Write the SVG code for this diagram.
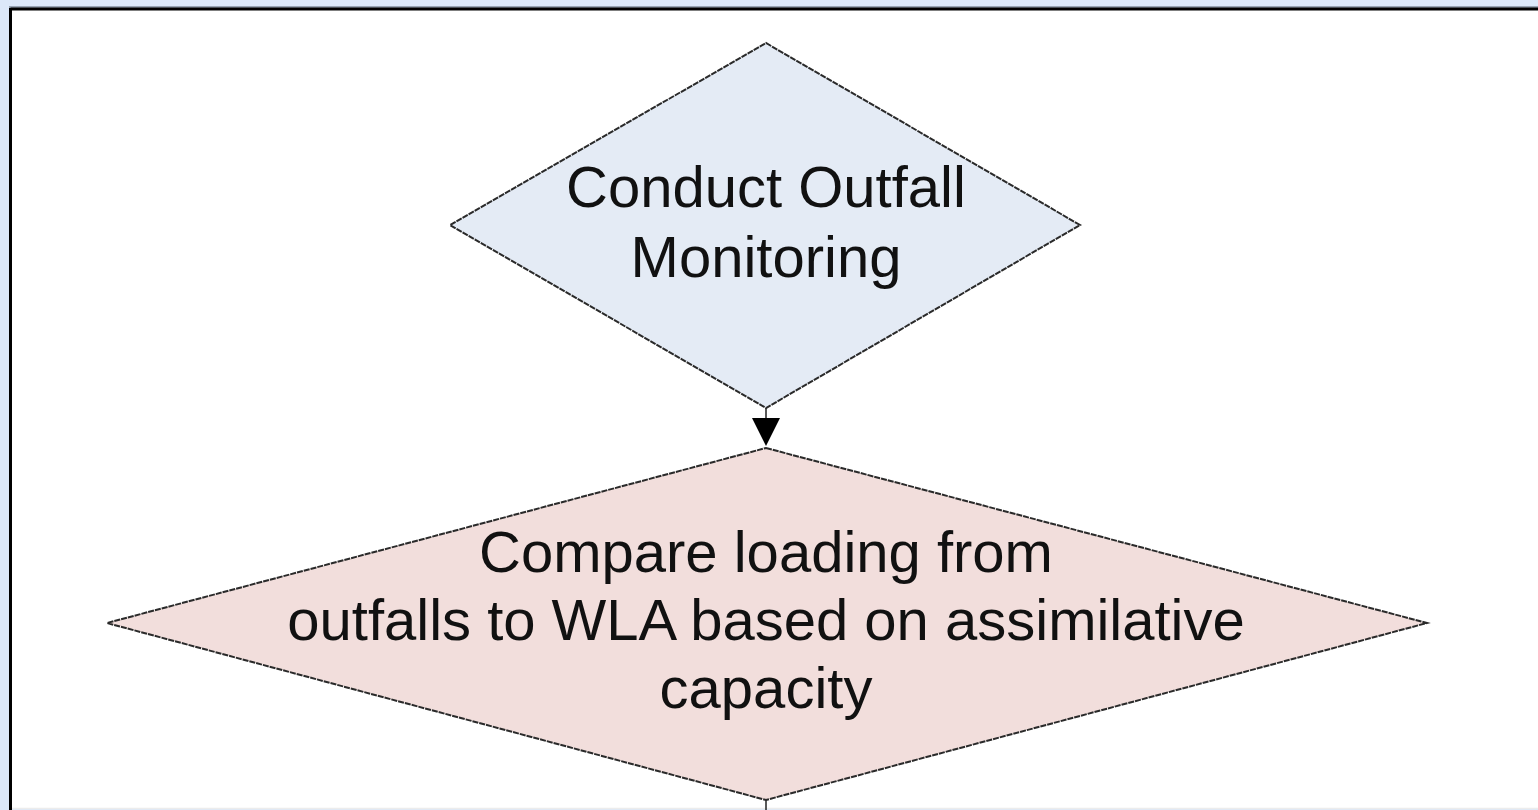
<svg xmlns="http://www.w3.org/2000/svg" width="1538" height="810" viewBox="0 0 1538 810">
  <defs>
    <style>
      .lbl { font-family: "Liberation Sans", Arial, sans-serif; font-size: 58px; fill: #111111; text-anchor: middle; }
      .edge { stroke: #222222; stroke-width: 1.5; fill: none; }
      .head { fill: #000000; }
      .shape { stroke: #2a2a2a; stroke-width: 2; stroke-dasharray: 6 1; }
    </style>
  </defs>

  <!-- page backdrop and framed canvas -->
  <rect x="0" y="0" width="1538" height="810" fill="#dce8f9"/>
  <rect x="10" y="8" width="1528" height="800" fill="#ffffff"/>
  <line x1="9" y1="7" x2="1538" y2="7" stroke="#55606e" stroke-width="1"/>
  <line x1="10.5" y1="9" x2="1538" y2="9" stroke="#000000" stroke-width="3"/>
  <line x1="10.5" y1="8" x2="10.5" y2="810" stroke="#000000" stroke-width="3"/>
  <line x1="12" y1="808.5" x2="1538" y2="808.5" stroke="#ececec" stroke-width="1.5"/>

  <g id="connectors">
    <path class="edge" d="M766,408 L766,420"/>
    <polygon class="head" points="752,418 780,418 766,446"/>
    <path class="edge" d="M766,800 L766,810"/>
  </g>

  <g id="node-monitoring">
    <polygon class="shape" points="766,43 1080,225 766,408 450,225" fill="#e4ebf5"/>
    <text class="lbl" x="766" y="207">Conduct Outfall</text>
    <text class="lbl" x="766" y="277">Monitoring</text>
  </g>

  <g id="node-compare">
    <polygon class="shape" points="766,448 1427,623 766,800 107,623" fill="#f2dedc"/>
    <text class="lbl" x="766" y="572">Compare loading from</text>
    <text class="lbl" x="766" y="640">outfalls to WLA based on assimilative</text>
    <text class="lbl" x="766" y="708">capacity</text>
  </g>
</svg>
